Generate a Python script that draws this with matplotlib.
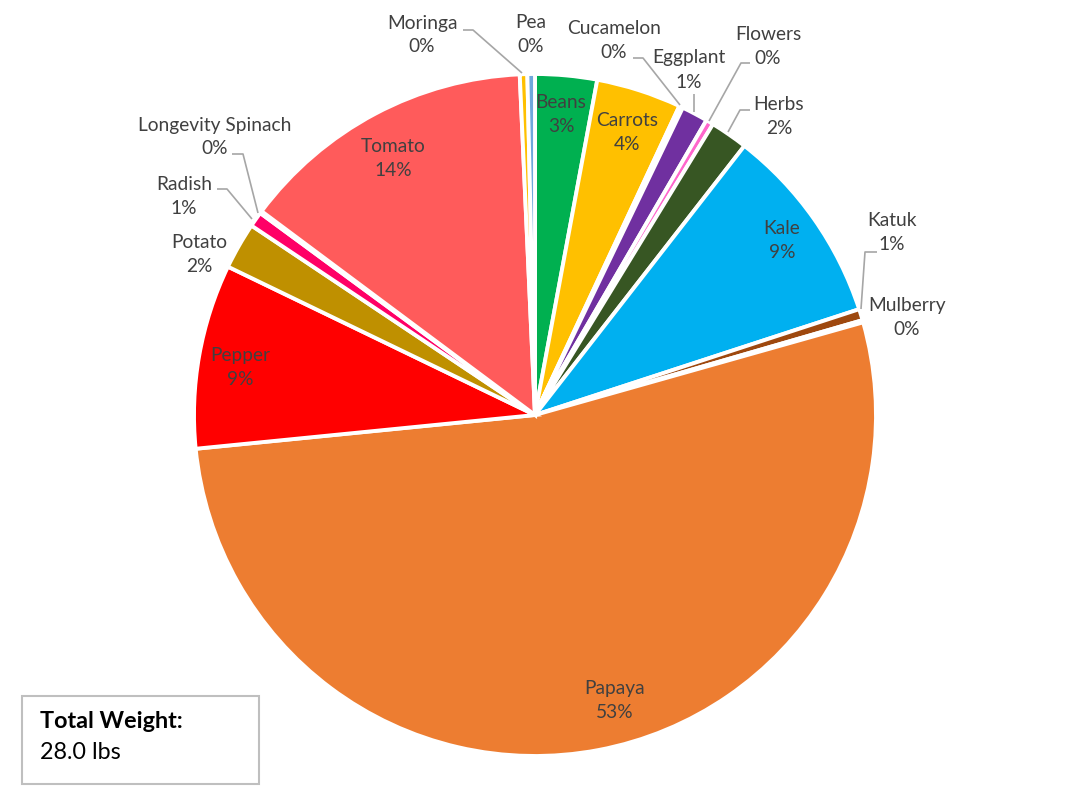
import matplotlib
matplotlib.use("Agg")
import matplotlib.pyplot as plt
from matplotlib.patches import Rectangle

# ---- data ----
categories = ["Beans", "Carrots", "Cucamelon", "Eggplant", "Flowers", "Herbs", "Kale",
              "Katuk", "Mulberry", "Papaya", "Pepper", "Potato", "Radish",
              "Longevity Spinach", "Tomato", "Moringa", "Pea"]
weights_lbs = [0.82, 1.13, 0.05, 0.35, 0.10, 0.50, 2.65,
               0.15, 0.03, 14.80, 2.45, 0.62, 0.20,
               0.03, 3.95, 0.10, 0.10]
slice_colors = ["#00B050", "#FFC000", "#A9D18E", "#7030A0", "#FF66CC", "#375623", "#00B0F0",
                "#9E480E", "#D9D2E9", "#ED7D31", "#FF0000", "#BF9000", "#FF0066",
                "#70AD47", "#FF5B5B", "#FFC000", "#6FA8DC"]
total_title = "Total Weight:"
total_value = "28.0 lbs"

# ---- layout (pixel positions of label centres and leader lines) ----
W, H = 1070, 803
def P(x, y):
    return (x, H - y)

label_pos = {
    "Beans": (561, 114), "Carrots": (627, 133), "Cucamelon": (614, 40),
    "Eggplant": (689, 70), "Flowers": (768, 46), "Herbs": (779, 116),
    "Kale": (782, 241), "Katuk": (892, 232), "Mulberry": (907, 318),
    "Papaya": (615, 701), "Pepper": (240, 368), "Potato": (199, 255),
    "Radish": (184, 197), "Longevity Spinach": (215, 137), "Tomato": (393, 159),
    "Moringa": (422, 35), "Pea": (531, 35),
}
leaders = {
    "Moringa": [(463, 31), (473, 31), (522, 74)],
    "Cucamelon": [(633, 59), (643, 59), (680, 106)],
    "Eggplant": [(694, 95), (694, 113)],
    "Flowers": [(750, 64), (741, 64), (709, 122)],
    "Herbs": [(750, 111), (740, 111), (728, 133)],
    "Katuk": [(877, 253), (865, 253), (861, 310)],
    "Longevity Spinach": [(232, 155), (243, 155), (258, 214)],
    "Radish": [(217, 190), (227, 190), (252, 220)],
}

fig = plt.figure(figsize=(W / 100, H / 100), dpi=100)
ax = fig.add_axes([0, 0, 1, 1])

ax.pie(weights_lbs, colors=slice_colors, startangle=90, counterclock=False,
       center=P(535, 416), radius=341,
       wedgeprops=dict(edgecolor="white", linewidth=2.8, joinstyle="miter"))

ax.set_xlim(0, W)
ax.set_ylim(0, H)
ax.set_aspect("equal")
ax.axis("off")

total = sum(weights_lbs)
font = ["Lato", "DejaVu Sans"]
for name, w in zip(categories, weights_lbs):
    pct = round(100 * w / total)
    x, y = label_pos[name]
    ax.text(*P(x, y), f"{name}\n{pct}%", ha="center", va="center",
            fontsize=13.8, color="#404040", family=font, linespacing=1.5)

for name, pts in leaders.items():
    xs = [p[0] for p in pts]
    ys = [H - p[1] for p in pts]
    ax.plot(xs, ys, color="#A6A6A6", lw=1.2, solid_capstyle="butt")

ax.add_patch(Rectangle(P(22, 785), 237, 88, fill=False, edgecolor="#BFBFBF", lw=1.5))
ax.text(*P(40, 722), total_title, ha="left", va="center", fontsize=16.8,
        fontweight="bold", color="black", family=font)
ax.text(*P(40, 753), total_value, ha="left", va="center", fontsize=16.8,
        color="black", family=font)

fig.savefig("out.png", dpi=100)
